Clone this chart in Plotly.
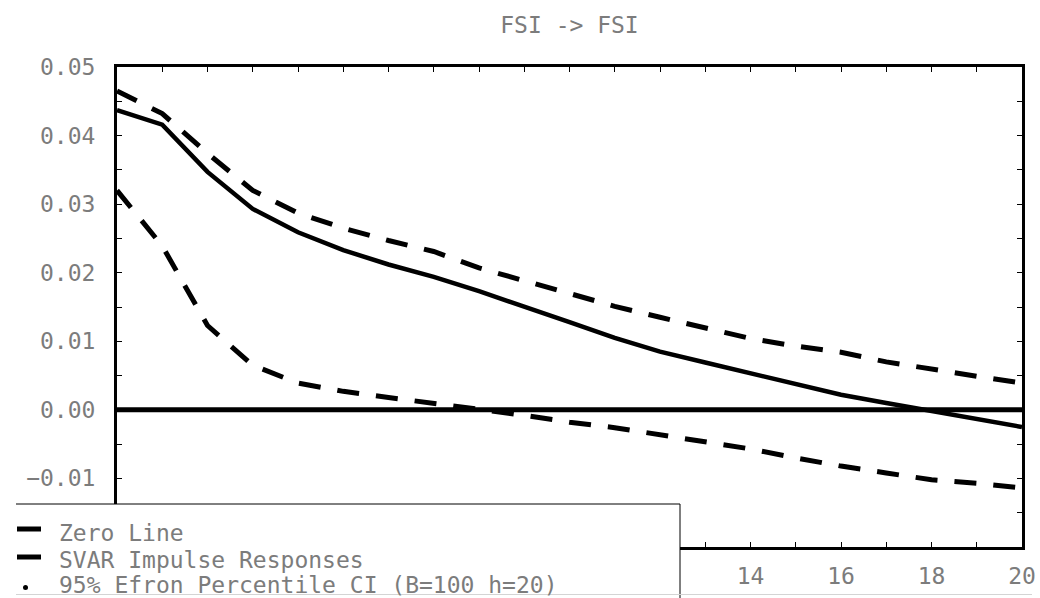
import plotly.graph_objects as go

# ---- data ----
horizon = list(range(0, 21))
svar_irf = [0.0437, 0.0416, 0.0347, 0.0293, 0.0259, 0.0233, 0.0212, 0.0194, 0.0173, 0.0151,
            0.0128, 0.0105, 0.0085, 0.0069, 0.0053, 0.0038, 0.0022, 0.0010, -0.0002, -0.0013, -0.0025]
ci_upper = [0.0465, 0.0432, 0.0374, 0.0320, 0.0287, 0.0265, 0.0247, 0.0231, 0.0207, 0.0188,
            0.0170, 0.0151, 0.0135, 0.0120, 0.0104, 0.0093, 0.0084, 0.0070, 0.0059, 0.0049, 0.0039]
ci_lower = [0.0320, 0.0239, 0.0123, 0.0065, 0.0039, 0.0027, 0.0018, 0.0010, 0.0001, -0.0008,
            -0.0018, -0.0026, -0.0036, -0.0046, -0.0057, -0.0070, -0.0082, -0.0092, -0.0102, -0.0107, -0.0114]
zero_x = [0, 20]
zero_y = [0.0, 0.0]
# ticks hidden behind the legend box carry no label
x_tick_vals = [0, 2, 4, 6, 8, 10, 12, 14, 16, 18, 20]
x_tick_text = ["", "", "", "", "", "", "", "14", "16", "18", "20"]
y_tick_vals = [-0.02, -0.01, 0.00, 0.01, 0.02, 0.03, 0.04, 0.05]
y_tick_text = ["", "\u22120.01", "0.00", "0.01", "0.02", "0.03", "0.04", "0.05"]
legend_labels = ["Zero Line", "SVAR Impulse Responses", "95% Efron Percentile CI (B=100 h=20)"]
title_text = "FSI -> FSI"

# ---- geometry ----
W, H = 1040, 598
L, R, T, B = 117, 1022, 67, 547
FONT = "DejaVu Sans Mono"
TXT = "#7c7c7c"
FS = 23


def px2x(p):
    return (p - L) / (R - L)


def px2y(p):
    return (B - p) / (B - T)


fig = go.Figure()
fig.add_trace(go.Scatter(x=zero_x, y=zero_y, mode="lines",
                         line=dict(color="black", width=5), showlegend=False))
fig.add_trace(go.Scatter(x=horizon, y=svar_irf, mode="lines",
                         line=dict(color="black", width=4.5), showlegend=False))
for band in (ci_upper, ci_lower):
    fig.add_trace(go.Scatter(x=horizon, y=band, mode="lines",
                             line=dict(color="black", width=5, dash="22px,17px"),
                             showlegend=False))

axis_common = dict(
    showline=True, linecolor="black", linewidth=3, mirror="ticks",
    ticks="inside", ticklen=5, tickwidth=1, tickcolor="black",
    showgrid=False, zeroline=False, automargin=False,
    tickfont=dict(family=FONT, size=FS, color=TXT),
)

fig.update_xaxes(range=[0, 20], tickmode="array", tickvals=x_tick_vals, ticktext=x_tick_text,
                 minor=dict(dtick=1, ticks="inside", ticklen=5, tickwidth=1, tickcolor="black"),
                 ticklabelstandoff=6, **axis_common)
fig.update_yaxes(range=[-0.02, 0.05], tickmode="array", tickvals=y_tick_vals, ticktext=y_tick_text,
                 minor=dict(dtick=0.005, ticks="inside", ticklen=5, tickwidth=1, tickcolor="black"),
                 ticklabelstandoff=14, **axis_common)

shapes = []
# legend box (white, covering the lower-left of the plot)
shapes.append(dict(type="rect", xref="paper", yref="paper", layer="above",
                   x0=px2x(16), x1=px2x(680), y0=px2y(605), y1=px2y(504),
                   fillcolor="white", line=dict(width=0)))
shapes.append(dict(type="line", xref="paper", yref="paper", layer="above",
                   x0=px2x(16), x1=px2x(680), y0=px2y(504), y1=px2y(504),
                   line=dict(color="black", width=1)))
shapes.append(dict(type="line", xref="paper", yref="paper", layer="above",
                   x0=px2x(680), x1=px2x(680), y0=px2y(504), y1=px2y(598),
                   line=dict(color="black", width=1)))
shapes.append(dict(type="line", xref="paper", yref="paper", layer="above",
                   x0=px2x(16), x1=px2x(1032), y0=px2y(594.5), y1=px2y(594.5),
                   line=dict(color="#d4d4d4", width=1)))
# legend samples
for yy in (529, 557):
    shapes.append(dict(type="line", xref="paper", yref="paper", layer="above",
                       x0=px2x(17), x1=px2x(41), y0=px2y(yy), y1=px2y(yy),
                       line=dict(color="black", width=5)))
shapes.append(dict(type="circle", xref="paper", yref="paper", layer="above",
                   x0=px2x(23), x1=px2x(28), y0=px2y(590), y1=px2y(585),
                   fillcolor="black", line=dict(width=0)))

annotations = []
for lab, yy in zip(legend_labels, (533, 560, 585)):
    annotations.append(dict(text=lab, xref="paper", yref="paper", x=px2x(57), y=px2y(yy),
                            xanchor="left", yanchor="middle", showarrow=False,
                            font=dict(family=FONT, size=FS, color=TXT)))

fig.update_layout(
    width=W, height=H, autosize=False,
    margin=dict(l=L, r=W - R, t=T, b=H - B, pad=0),
    paper_bgcolor="white", plot_bgcolor="white",
    title=dict(text=title_text, x=0.5, xref="paper", y=1 - 25 / H, yref="container",
               xanchor="center", yanchor="middle",
               font=dict(family=FONT, size=FS, color=TXT)),
    shapes=shapes, annotations=annotations, showlegend=False,
)

fig.write_html("out.html")
